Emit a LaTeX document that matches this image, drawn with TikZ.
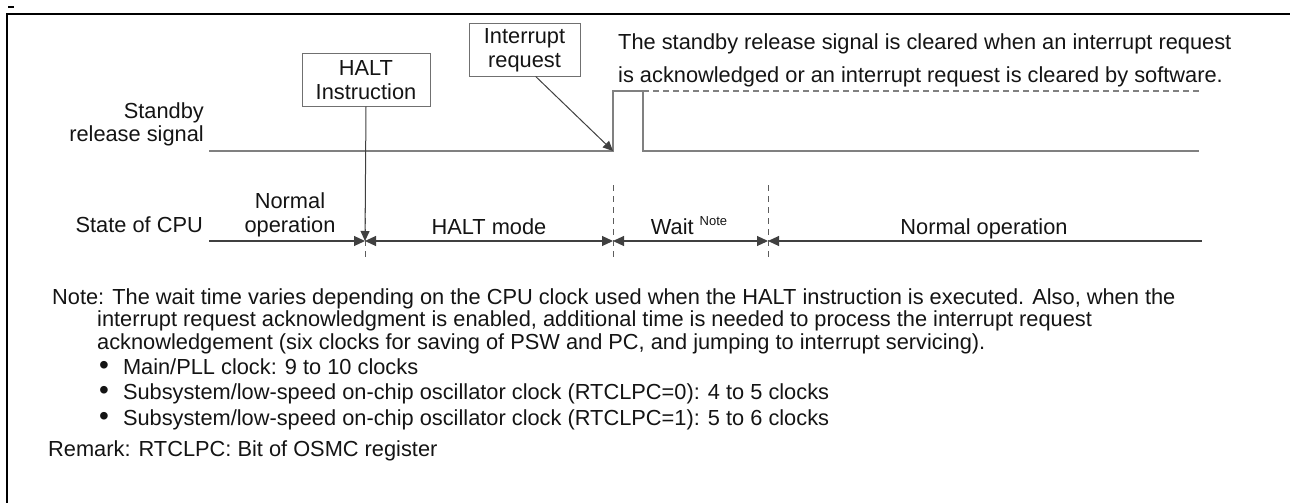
\documentclass[tikz,border=0pt]{standalone}
\usepackage{fontspec}
\setmainfont{Liberation Sans}
\usetikzlibrary{arrows.meta,calc}

\definecolor{sig}{HTML}{808080}
\definecolor{ink}{HTML}{404040}
\definecolor{boxline}{HTML}{707070}
\definecolor{txt}{HTML}{141414}

\newcommand{\blt}{{\fontsize{28}{28}\selectfont •}\hspace{14pt}}

\begin{document}
\begin{tikzpicture}[x=1pt,y=-1pt,
  every node/.style={font=\fontsize{21.8}{23}\selectfont, inner sep=0pt, text=txt},
  box/.style={draw=boxline, line width=1pt, align=center},
  sigline/.style={draw=sig, line width=1.5pt},
  sigdash/.style={draw=sig, line width=1.5pt, dash pattern=on 6pt off 4pt},
  cpuline/.style={draw=ink, line width=1.1pt},
  divider/.style={draw=ink!85, line width=1pt, dash pattern=on 6pt off 5pt},
  tipr/.style={-{Triangle[length=11pt,width=10pt]}},
  tipl/.style={{Triangle[length=11pt,width=10pt]}-},
  tipb/.style={{Triangle[length=11pt,width=10pt]}-{Triangle[length=11pt,width=10pt]}},
  pointer/.style={draw=ink, line width=1pt, -{Triangle[length=10pt,width=9pt]}},
  label/.style={anchor=base east, align=right},
  phase/.style={anchor=base, align=center},
  line/.style={anchor=base west}
]
\useasboundingbox (0,0) rectangle (1290,503);

% outer frame (top and left edges only)
\draw[line width=2.8pt] (7,503) -- (7,14) -- (1290,14);
\draw[line width=2pt] (8,7) -- (14,7);

% ---- standby release signal ----
\node[label] (lsig) at (204,141) {Standby\\release signal};
\coordinate (s0) at (209,151);
\coordinate (s1) at (613,151);
\coordinate (s2) at (613,91);
\coordinate (s3) at (643,91);
\coordinate (s4) at (643,151);
\coordinate (s5) at (1199,151);
\coordinate (s6) at (1199,91);
\draw[sigline] (s0) -- (s1) -- (s2) -- (s3) -- (s4) -- (s5);
\draw[sigdash] (s3) -- (s6);

\node[line] (clr1) at (618,50) {The standby release signal is cleared when an interrupt request};
\node[line] (clr2) at (618,82) {is acknowledged or an interrupt request is cleared by software.};

% ---- event boxes ----
\node[box, minimum width=128pt, minimum height=52pt] (halt) at (366,80)
  {HALT\\[1pt]Instruction};
\node[box, minimum width=111pt, minimum height=52pt] (irq) at (524.5,50)
  {Interrupt\\[1pt]request};

% ---- state of CPU ----
\node[label] (lcpu) at (203,232) {State of CPU};
\coordinate (c0) at (209,241);
\coordinate (c1) at (365,241);
\coordinate (c2) at (613,241);
\coordinate (c3) at (768,241);
\coordinate (c4) at (1202,241);

\foreach \c in {c1,c2,c3}{
  \draw[divider] ($(\c)+(0,-56)$) -- ($(\c)+(0,17)$);
}

\draw[cpuline, tipr] (c0) -- (c1);
\draw[cpuline, tipb] (c1) -- (c2);
\draw[cpuline, tipb] (c2) -- (c3);
\draw[cpuline, tipl] (c3) -- (c4);

\node[phase, font=\fontsize{21.8}{24}\selectfont] (p1) at (290,232) {Normal\\operation};
\node[phase] (p2) at (489,234) {HALT mode};
\node[phase] (p3) at (689,234) {Wait\hspace{6pt}\raisebox{8.5pt}{\fontsize{13}{13}\selectfont Note}};
\node[phase] (p4) at (984,234) {Normal operation};

% ---- event pointers ----
\draw[pointer] (halt.south) -- (c1);
\draw[pointer] ($(irq.south west)!0.6!(irq.south east)$) -- (s1);

% ---- notes ----
\node[line] (n1) at (52,304) {Note: The wait time varies depending on the CPU clock used when the HALT instruction is executed. Also, when the};
\node[line] (n2) at (97,326.5) {interrupt request acknowledgment is enabled, additional time is needed to process the interrupt request};
\node[line] (n3) at (97,349) {acknowledgement (six clocks for saving of PSW and PC, and jumping to interrupt servicing).};
\node[line] (b1) at (99,374) {\blt Main/PLL clock: 9 to 10 clocks};
\node[line] (b2) at (99,399.5) {\blt Subsystem/low-speed on-chip oscillator clock (RTCLPC=0): 4 to 5 clocks};
\node[line] (b3) at (99,425) {\blt Subsystem/low-speed on-chip oscillator clock (RTCLPC=1): 5 to 6 clocks};
\node[line] (rm) at (48,456) {Remark: RTCLPC: Bit of OSMC register};
\end{tikzpicture}
\end{document}
